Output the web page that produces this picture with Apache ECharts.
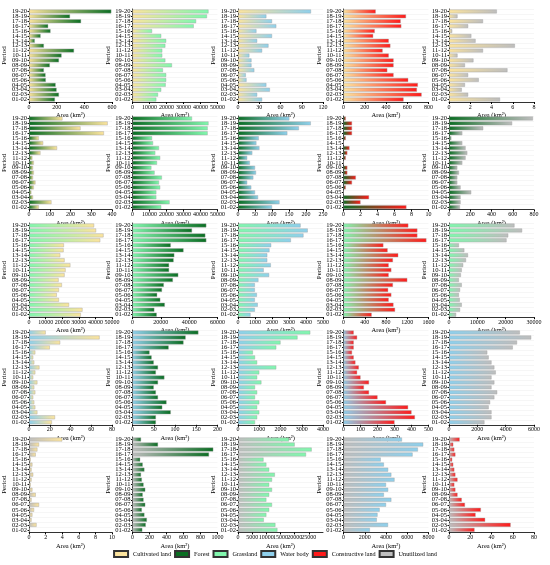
<!DOCTYPE html>
<html>
<head>
<meta charset="utf-8">
<script src="https://cdn.jsdelivr.net/npm/echarts@6/dist/echarts.min.js"></script>
<style>
html,body{margin:0;padding:0;background:#fff;}
#main{width:550px;height:565px;}
</style>
</head>
<body>
<div id="main"></div>
<script>
// periods, bottom to top
const periods = ['01-02','02-03','03-04','04-05','05-06','06-07','07-08','08-09','09-10','10-11',
                 '11-12','12-13','13-14','14-15','15-16','16-17','17-18','18-19','19-20'];
const landTypes = ['Cultivated land','Forest','Grassland','Water body','Constructive land','Unutilized land'];
const landColors = ['#FCE49E','#0A6E22','#82F7AE','#8FD0EC','#FF1A1A','#BEBEBE'];

// transition areas (km2), 01-02 .. 19-20
const cultToForest = [187,216,199,192,121,119,107,150,216,235,325,107,41,83,155,138,376,296,595];
const cultToGrass  = [14000,15000,16900,19500,19800,19800,17900,23200,19300,17500,17500,19300,19800,16900,11500,36000,37400,43800,44700];
const cultToWater  = [34,27,45,40,12,11,23,19,19,16,34,43,27,48,26,54,48,40,103];
const cultToBuilt  = [565,735,691,700,609,471,412,471,471,426,368,441,426,279,294,544,538,588,303];
const cultToUnused = [4.8,1.8,1.2,1.5,2.8,1.8,5.5,1.5,2.3,0.8,3.2,6.2,2.5,2.1,0.3,1.8,3.2,0.8,4.5];

const forestToCult   = [47,108,19,11,23,31,19,23,19,23,16,55,135,68,47,361,248,379,161];
const forestToGrass  = [16900,21800,14000,14000,16300,15600,17300,13000,11100,14400,16300,13400,15600,12100,11500,44200,44200,44700,35000];
const forestToWater  = [100,122,59,50,39,27,45,53,50,35,27,42,63,54,61,145,179,214,151];
const forestToBuilt  = [7.4,2.0,3.0,0,0.27,1.0,1.45,0.45,0.45,0,0.27,0.45,0.7,0,0.27,1.0,1.0,1.0,0.27];
const forestToUnused = [103,109,109,209,109,78,78,94,78,125,156,172,156,125,22,125,322,594,790];

const grassToCult   = [31200,32200,24100,18000,16700,18000,19800,17800,21400,22000,24900,21400,18800,20800,21000,42900,44900,40400,39200];
const grassToForest = [17100,15400,22800,19600,17400,20800,22100,28500,32300,25800,25800,29000,29500,36000,27000,52100,51400,42000,52100];
const grassToWater  = [735,990,1160,990,1110,990,990,1200,1830,1510,1930,1720,1720,1850,1950,3110,3850,4100,3680];
const grassToBuilt  = [530,970,940,850,900,840,930,1200,850,900,850,930,1030,830,750,1560,1390,1390,1220];
const grassToUnused = [2500,3900,4500,3800,3500,3900,4500,3500,4200,4500,5000,6000,6700,5400,3500,20300,20900,25800,23100];

const waterToCult   = [22,25,8,6,5,4,6,5,8,4,6,10,5,4,6,20,30,68,16];
const waterToForest = [55,55,90,70,80,60,55,50,60,75,55,60,50,45,40,85,120,125,155];
const waterToGrass  = [800,900,1000,900,1000,800,900,800,1100,900,1000,1800,900,800,700,1800,2000,2800,3400];
const waterToBuilt  = [300,420,400,380,250,200,150,120,150,100,80,90,70,60,50,60,60,80,60];
const waterToUnused = [2500,3000,3000,2800,2900,3200,3400,3000,3200,3000,3300,3200,3000,2800,2700,4500,4800,5800,5000];

const unusedToCult   = [0.1,0.9,0.3,0.4,0.6,1.2,0.3,0.8,0.4,0.2,0.3,0.5,0.3,0.4,0.2,0.8,1.0,1.2,4.0];
const unusedToForest = [115,156,169,140,110,150,130,120,150,130,110,100,140,120,90,900,950,300,100];
const unusedToGrass  = [13900,13200,9100,10000,11000,12000,10000,11000,12000,11000,12000,13000,11000,10000,9000,24000,26000,20000,18000];
const unusedToWater  = [2480,4190,3130,3200,3400,4000,4500,3800,4200,4000,4800,4500,4200,3800,3500,6500,7000,7500,5500];
const unusedToBuilt  = [24,58,34,25,30,15,12,8,6,5,8,6,5,4,3,6,5,4,10];

const panelData = [
  [cultToForest, cultToGrass, cultToWater, cultToBuilt, cultToUnused],
  [forestToCult, forestToGrass, forestToWater, forestToBuilt, forestToUnused],
  [grassToCult, grassToForest, grassToWater, grassToBuilt, grassToUnused],
  [waterToCult, waterToForest, waterToGrass, waterToBuilt, waterToUnused],
  [unusedToCult, unusedToForest, unusedToGrass, unusedToWater, unusedToBuilt]
];
const sources = [0, 1, 2, 3, 5];
const axisMax = [
  [600, 50000, 120, 800, 8],
  [400, 50000, 250, 10, 800],
  [50000, 60000, 5000, 1600, 30000],
  [80, 200, 4000, 500, 6000],
  [10, 1000, 30000, 8000, 80]
];
const axisStep = [
  [200, 10000, 30, 200, 2],
  [100, 10000, 50, 2, 200],
  [10000, 20000, 1000, 400, 10000],
  [20, 50, 1000, 100, 2000],
  [2, 200, 5000, 2000, 20]
];

const serif = 'Liberation Serif';
const grid = [], xAxis = [], yAxis = [], series = [];

for (let r = 0; r < 5; r++) {
  const s = sources[r];
  const targets = [0, 1, 2, 3, 4, 5].filter(k => k !== s);
  for (let c = 0; c < 5; c++) {
    const i = r * 5 + c;
    const t = targets[c];
    grid.push({left: 27 + 105.5 * c, top: 9 + 107 * r, width: 85, height: 93 + r * 0.6});
    xAxis.push({
      type: 'value', gridIndex: i, min: 0, max: axisMax[r][c], interval: axisStep[r][c],
      name: 'Area (km²)', nameLocation: 'middle', nameGap: 10,
      nameTextStyle: {fontFamily: serif, fontSize: 6.5, color: '#000'},
      axisLine: {show: true, lineStyle: {color: '#000', width: 0.8}},
      axisTick: {show: true, length: 2, lineStyle: {color: '#000'}},
      axisLabel: {fontFamily: serif, fontSize: 6, color: '#000', margin: 2,
                  formatter: v => String(v)},
      splitLine: {show: false}
    });
    yAxis.push({
      type: 'category', gridIndex: i, data: periods,
      name: 'Period', nameLocation: 'middle', nameGap: 18, nameRotate: 90,
      nameTextStyle: {fontFamily: serif, fontSize: 7, color: '#000'},
      axisLine: {show: true, lineStyle: {color: '#000', width: 0.8}},
      axisTick: {show: true, length: 1.5, interval: 0, alignWithLabel: true, lineStyle: {color: '#000'}},
      axisLabel: {fontFamily: serif, fontSize: 6.5, color: '#000', margin: 2, interval: 0},
      splitLine: {show: true, interval: 0, lineStyle: {color: '#ececec', width: 0.5}}
    });
    series.push({
      type: 'bar', xAxisIndex: i, yAxisIndex: i, data: panelData[r][c],
      barCategoryGap: '22%', silent: true,
      itemStyle: {
        color: new echarts.graphic.LinearGradient(0, 0, 1, 0, [
          {offset: 0, color: landColors[s]},
          {offset: 1, color: landColors[t]}
        ]),
        borderColor: '#a0a0a0', borderWidth: 0.4
      }
    });
  }
}

// hidden grid only for the legend entries
grid.push({left: 0, top: 0, width: 1, height: 1, show: false});
xAxis.push({type: 'value', gridIndex: 25, show: false});
yAxis.push({type: 'category', gridIndex: 25, show: false, data: ['x']});
landTypes.forEach((name, k) => {
  series.push({
    type: 'bar', name: name, xAxisIndex: 25, yAxisIndex: 25, data: [],
    itemStyle: {color: landColors[k], borderColor: '#333', borderWidth: 0.6}
  });
});

const myChart = echarts.init(document.getElementById('main'));
myChart.setOption({
  animation: false,
  backgroundColor: '#fff',
  legend: {
    data: landTypes, bottom: 2, left: 'center', icon: 'rect',
    itemWidth: 14, itemHeight: 6, itemGap: 3,
    textStyle: {fontFamily: serif, fontSize: 6.2, color: '#000'}
  },
  grid: grid,
  xAxis: xAxis,
  yAxis: yAxis,
  series: series
});
</script>
</body>
</html>
